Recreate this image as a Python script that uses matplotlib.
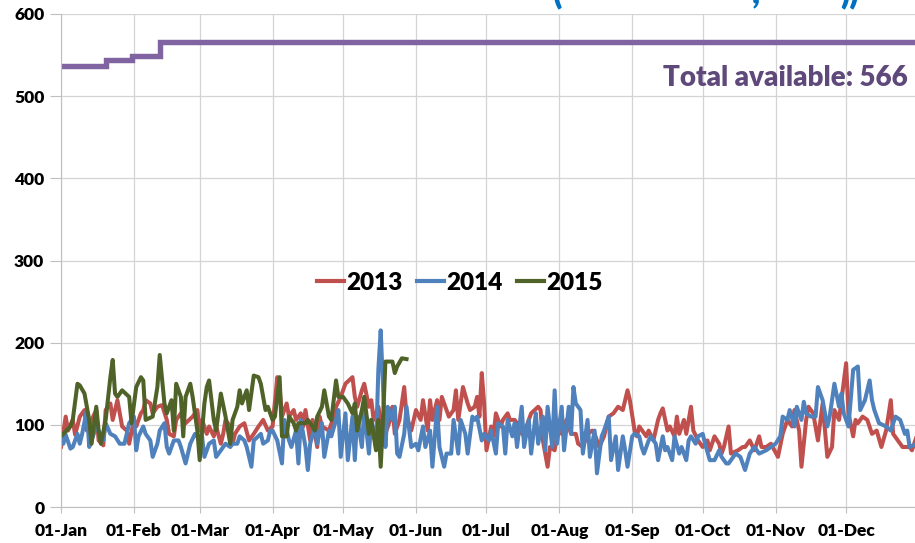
import matplotlib
matplotlib.use("Agg")
import matplotlib.pyplot as plt

# day of year -> value
days_2013 = [0, 2, 3, 5, 6, 8, 10, 11, 13, 15, 16, 18, 19, 21, 22, 24, 25, 26, 28, 29,
             31, 32, 34, 35, 36, 38, 39, 41, 43, 45, 46, 48, 49, 51, 53, 56, 58, 59, 60, 62,
             63, 65, 66, 68, 69, 70, 72, 73, 74, 76, 78, 80, 82, 84, 86, 88, 90, 92, 93, 94,
             96, 97, 99, 100, 102, 103, 104, 106, 107, 109, 110, 111, 114, 116, 117, 119, 121, 124, 125, 126,
             128, 129, 131, 132, 133, 135, 136, 138, 140, 141, 142, 144, 146, 147, 149, 151, 153, 154, 156, 157,
             158, 160, 161, 162, 165, 167, 168, 169, 171, 173, 174, 176, 177, 178, 179, 180, 181, 183, 184, 185,
             187, 188, 190, 191, 193, 194, 195, 197, 198, 200, 203, 204, 205, 207, 208, 210, 212, 213, 215, 217,
             219, 220, 222, 224, 226, 227, 229, 231, 233, 235, 237, 239, 241, 242, 244, 245, 246, 249, 250, 252,
             254, 255, 256, 258, 259, 261, 262, 263, 265, 266, 268, 269, 271, 273, 275, 276, 278, 280, 281, 282,
             284, 285, 288, 290, 291, 293, 295, 297, 298, 300, 302, 305, 307, 309, 311, 312, 314, 315, 317, 318,
             320, 322, 324, 326, 328, 329, 331, 332, 334, 335, 337, 338, 339, 341, 343, 345, 347, 349, 351, 353,
             354, 356, 358, 361, 362, 364]
vals_2013 = [73, 110, 93, 106, 88, 110, 118, 93, 106, 118, 81, 75, 118, 126, 106, 130, 114, 98, 93, 77,
             106, 98, 114, 118, 130, 126, 114, 122, 124, 106, 89, 86, 106, 114, 102, 110, 118, 93, 106, 89,
             98, 86, 98, 77, 89, 106, 98, 77, 89, 98, 102, 81, 89, 98, 106, 93, 98, 158, 146, 110,
             126, 110, 118, 106, 114, 98, 118, 81, 106, 73, 110, 98, 93, 110, 122, 134, 150, 158, 134, 122,
             142, 150, 122, 130, 106, 122, 106, 89, 106, 122, 89, 106, 146, 110, 93, 118, 106, 130, 93, 130,
             106, 130, 106, 134, 110, 118, 142, 106, 146, 126, 118, 122, 134, 110, 163, 126, 69, 98, 86, 114,
             98, 106, 114, 106, 106, 102, 93, 86, 98, 114, 122, 118, 81, 49, 73, 69, 106, 89, 106, 89,
             89, 77, 73, 89, 93, 89, 73, 86, 110, 114, 122, 118, 142, 130, 93, 86, 98, 86, 93, 81,
             106, 114, 120, 93, 98, 86, 110, 89, 106, 89, 122, 93, 81, 73, 81, 69, 86, 77, 65, 73,
             98, 65, 69, 73, 73, 81, 69, 86, 73, 73, 77, 61, 89, 106, 98, 118, 93, 49, 106, 122,
             114, 81, 126, 61, 73, 118, 106, 130, 175, 114, 86, 106, 102, 110, 106, 89, 93, 73, 93, 130,
             89, 81, 73, 73, 69, 86]

days_2014 = [0, 1, 2, 4, 5, 7, 8, 9, 11, 12, 13, 15, 16, 18, 19, 21, 23, 25, 27, 29,
             31, 32, 33, 35, 36, 38, 39, 41, 42, 44, 45, 46, 48, 50, 51, 53, 55, 57, 58, 60,
             61, 63, 65, 66, 68, 70, 72, 73, 75, 76, 78, 79, 81, 82, 85, 86, 88, 89, 90, 92,
             94, 95, 97, 98, 100, 101, 102, 104, 105, 106, 108, 109, 111, 112, 114, 115, 117, 118, 119, 121,
             122, 124, 125, 126, 128, 129, 131, 132, 134, 135, 136, 137, 138, 139, 141, 142, 143, 144, 146, 147,
             149, 151, 152, 154, 155, 157, 158, 160, 161, 163, 164, 166, 167, 169, 170, 172, 173, 175, 176, 177,
             179, 180, 182, 183, 185, 186, 188, 189, 190, 192, 193, 194, 196, 197, 199, 200, 202, 203, 205, 206,
             207, 209, 210, 211, 213, 214, 216, 217, 218, 219, 221, 222, 224, 225, 227, 228, 230, 231, 233, 234,
             236, 237, 239, 240, 241, 243, 244, 246, 247, 248, 250, 251, 253, 254, 256, 257, 258, 260, 261, 263,
             264, 266, 267, 268, 270, 271, 273, 274, 276, 278, 280, 281, 283, 284, 287, 289, 291, 293, 295, 297,
             300, 302, 304, 306, 307, 309, 310, 312, 313, 315, 316, 317, 319, 321, 322, 324, 326, 327, 329, 331,
             332, 333, 335, 337, 339, 340, 342, 344, 345, 346, 348, 351, 353, 355, 357, 359, 360, 361, 364]
vals_2014 = [86, 77, 88, 71, 73, 89, 77, 89, 118, 73, 81, 98, 93, 81, 102, 89, 86, 77, 77, 102,
             110, 69, 86, 98, 89, 81, 61, 77, 93, 102, 73, 65, 81, 81, 73, 53, 77, 89, 86, 86,
             61, 77, 81, 61, 69, 77, 73, 77, 77, 86, 81, 73, 49, 81, 89, 77, 81, 93, 93, 81,
             53, 106, 81, 73, 93, 53, 106, 73, 45, 77, 98, 77, 102, 61, 93, 86, 106, 118, 61, 114,
             57, 110, 57, 110, 73, 118, 65, 106, 73, 167, 215, 146, 73, 122, 106, 122, 65, 61, 89, 122,
             73, 77, 69, 98, 73, 93, 49, 122, 73, 49, 65, 65, 106, 65, 106, 89, 65, 110, 106, 110,
             81, 89, 81, 93, 65, 102, 98, 65, 106, 86, 102, 73, 122, 73, 106, 65, 114, 77, 110, 69,
             122, 73, 142, 77, 122, 69, 122, 89, 146, 126, 118, 65, 106, 61, 93, 41, 86, 93, 110, 57,
             86, 45, 86, 69, 49, 86, 89, 86, 73, 65, 81, 86, 77, 57, 86, 69, 73, 57, 86, 65,
             73, 57, 81, 86, 77, 86, 89, 77, 57, 57, 69, 61, 53, 53, 65, 61, 45, 65, 73, 65,
             69, 73, 77, 86, 110, 106, 118, 98, 122, 106, 128, 114, 110, 110, 146, 130, 98, 110, 150, 122,
             138, 114, 98, 167, 171, 118, 130, 154, 130, 118, 102, 98, 93, 110, 106, 89, 93, 73, 77]

days_2015 = [0, 4, 5, 7, 8, 10, 12, 13, 15, 16, 17, 19, 21, 22, 23, 24, 26, 29, 30, 32,
             34, 35, 36, 39, 41, 42, 44, 45, 47, 48, 49, 51, 52, 53, 55, 56, 58, 59, 61, 62,
             63, 65, 66, 68, 70, 72, 73, 75, 76, 77, 79, 80, 82, 84, 85, 87, 88, 90, 91, 93,
             94, 96, 97, 99, 100, 101, 104, 105, 107, 108, 109, 111, 112, 114, 115, 117, 118, 120, 122, 124,
             125, 126, 128, 129, 131, 132, 134, 135, 136, 137, 138, 141, 142, 143, 145, 147]
vals_2015 = [86, 98, 106, 150, 148, 138, 106, 77, 122, 93, 77, 106, 158, 179, 138, 134, 142, 134, 102, 146,
             158, 154, 106, 110, 146, 185, 126, 114, 130, 93, 150, 134, 86, 134, 150, 134, 93, 57, 126, 146,
             154, 106, 93, 138, 110, 77, 106, 122, 142, 126, 142, 118, 160, 158, 150, 118, 122, 106, 110, 158,
             86, 86, 110, 102, 93, 102, 102, 106, 98, 93, 110, 122, 142, 110, 106, 154, 134, 134, 126, 114,
             126, 93, 118, 134, 89, 106, 69, 106, 49, 106, 177, 177, 163, 171, 181, 180]

total_days = [0, 19, 30, 42, 364]
total_vals = [537, 544, 549, 566, 566]

month_starts = [0, 31, 59, 90, 120, 151, 181, 212, 243, 273, 304, 334]
month_labels = ["01-Jan", "01-Feb", "01-Mar", "01-Apr", "01-May", "01-Jun",
                "01-Jul", "01-Aug", "01-Sep", "01-Oct", "01-Nov", "01-Dec"]

plt.rcParams['font.family'] = ['Lato', 'DejaVu Sans']
plt.rcParams['font.weight'] = 'heavy'

fig = plt.figure(figsize=(9.15, 5.43), dpi=100)
ax = fig.add_axes([61 / 915, 36 / 543, 858 / 915, 493 / 543])

ax.plot(total_days, total_vals, color="#8064A2", lw=3.9, drawstyle="steps-post",
        solid_joinstyle="miter")
ax.plot(days_2013, vals_2013, color="#C0504D", lw=2.9, label="2013")
ax.plot(days_2014, vals_2014, color="#4F81BD", lw=2.9, label="2014")
ax.plot(days_2015, vals_2015, color="#4F6228", lw=2.9, label="2015")

ax.set_xlim(0, 365)
ax.set_ylim(0, 600)
ax.set_yticks(range(0, 601, 100))
ax.set_xticks(month_starts)
ax.set_xticklabels(month_labels)
ax.grid(True, color="#D4D4D4", lw=0.9)
ax.set_axisbelow(True)
for s in ["top", "right"]:
    ax.spines[s].set_visible(False)
for s in ["left", "bottom"]:
    ax.spines[s].set_color("#BFBFBF")
ax.tick_params(axis="y", length=8, color="#BFBFBF", pad=4, labelsize=12.5)
ax.tick_params(axis="x", length=4.5, color="#BFBFBF", pad=7, labelsize=12.5)

ax.text(0.992, 0.857, "Total available: 566", transform=fig.transFigure,
        ha="right", va="center", color="#5F497A", fontsize=20, fontweight="heavy")

leg = ax.legend(loc="center", bbox_to_anchor=(0.465, 0.455), ncol=3, frameon=False,
                fontsize=17.5, handlelength=1.1, handletextpad=0.1, columnspacing=0.6)
for line in leg.get_lines():
    line.set_linewidth(3)

# top of the title, mostly cut off by the figure edge
for x, s in [(553, "("), (752, ","), (840, "))")]:
    fig.text(x / 915, 1 - 3 / 543, s, color="#0070C0", fontsize=24, fontweight="heavy",
             va="baseline", ha="left")

fig.savefig("out.png", dpi=100)
